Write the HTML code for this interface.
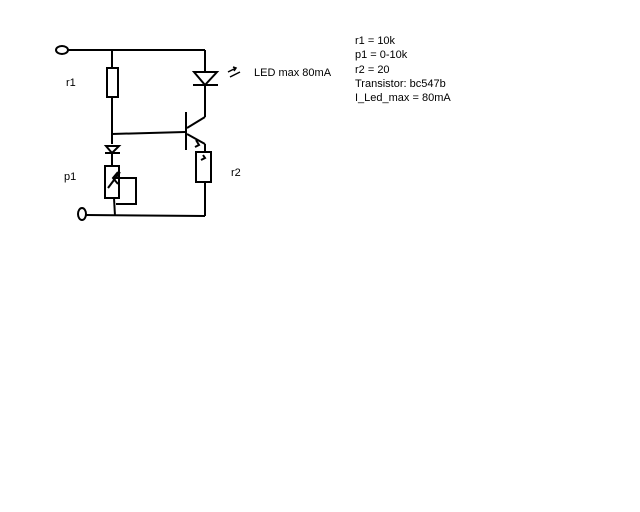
<!DOCTYPE html>
<html><head><style>
body{margin:0;background:#fff;width:640px;height:512px;overflow:hidden;font-family:"Liberation Sans",sans-serif}
svg{position:absolute;left:0;top:0}
</style></head><body>
<svg width="640" height="512" viewBox="0 0 640 512" font-family="Liberation Sans, sans-serif" font-size="11">
<g stroke="#000" stroke-width="2" fill="none">
<ellipse cx="62" cy="50" rx="6" ry="4"/>
<line x1="68" y1="50" x2="205" y2="50"/>
<line x1="112" y1="50" x2="112" y2="68"/>
<rect x="107" y="68" width="11" height="29"/>
<line x1="112" y1="97" x2="112" y2="144"/>
<line x1="112" y1="134" x2="185" y2="132"/>
<line x1="205" y1="50" x2="205" y2="72"/>
<polygon points="194,72 217,72 205,85"/>
<line x1="193" y1="85" x2="218" y2="85"/>
<line x1="205" y1="85" x2="205" y2="117"/>
<line x1="186" y1="112" x2="186" y2="150"/>
<line x1="187" y1="128" x2="205" y2="117"/>
<line x1="187" y1="134" x2="205" y2="144"/>
<line x1="205" y1="144" x2="205" y2="152"/>
<polyline points="196,140 199,145 195,147"/>
<rect x="196" y="152" width="15" height="30"/>
<polyline points="203,155 205,158 201,160"/>
<line x1="205" y1="182" x2="205" y2="216"/>
<polygon points="106,146 119,146 112,153"/>
<line x1="105" y1="153" x2="120" y2="153"/>
<line x1="112" y1="153" x2="112" y2="166"/>
<rect x="105" y="166" width="14" height="32"/>
<line x1="108" y1="188" x2="120" y2="172"/>
<polyline points="118,172 113,178 118,184"/>
<polyline points="113,178 136,178 136,204 116,204"/>
<line x1="114" y1="198" x2="115" y2="216"/>
<ellipse cx="82" cy="214" rx="4" ry="6"/>
<line x1="86" y1="215" x2="205" y2="216"/>
</g>
<g stroke="#000" stroke-width="1.5" fill="none">
<line x1="228" y1="72" x2="236" y2="68"/><line x1="230" y1="77" x2="240" y2="72"/>
<polyline points="233,67 236,68 234,71"/>
</g>
<g fill="#000">
<text x="254" y="76">LED max 80mA</text>
<text x="66" y="86">r1</text>
<text x="64" y="180">p1</text>
<text x="231" y="176">r2</text>
<text x="355" y="44">r1 = 10k</text>
<text x="355" y="58">p1 = 0-10k</text>
<text x="355" y="73">r2 = 20</text>
<text x="355" y="87">Transistor: bc547b</text>
<text x="355" y="101">I_Led_max = 80mA</text>
</g>
</svg>
</body></html>
